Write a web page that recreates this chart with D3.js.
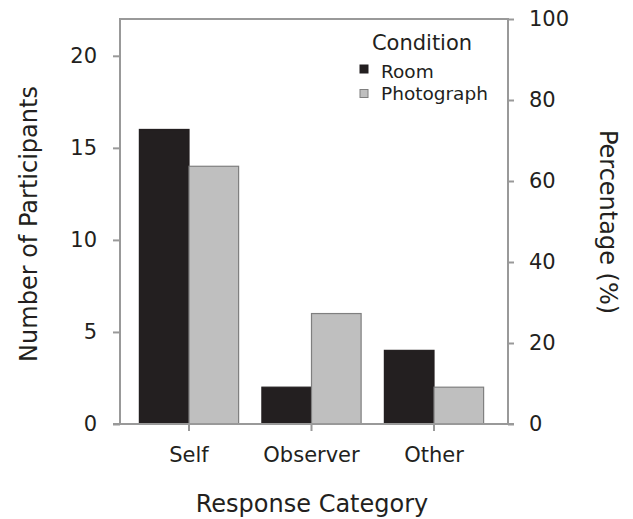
<!DOCTYPE html>
<html><head><meta charset="utf-8">
<script src="https://cdn.jsdelivr.net/npm/d3@7"></script>
<style>body{margin:0;background:#fff}svg{display:block}text{font-family:"DejaVu Sans",Verdana,sans-serif;fill:#231f20}</style>
</head><body><svg id="c" width="633" height="519"></svg>
<script>
const categories = ["Self", "Observer", "Other"];
const seriesNames = ["Room", "Photograph"];
const roomValues = [16, 2, 4];
const photoValues = [14, 6, 2];
const leftTicks = [0, 5, 10, 15, 20];
const rightTicks = [0, 20, 40, 60, 80, 100];

const svg = d3.select("#c");
const L = 120, R = 508, T = 19, B = 424;
const colors = {Room: "#231f20", Photograph: "#bfbfbf"};
const strokes = {Room: "#231f20", Photograph: "#7f7f7f"};
const axisGray = "#999999";
const FONT = '"DejaVu Sans",Verdana,sans-serif';

const y = d3.scaleLinear().domain([0, 22]).range([B, T]);
const yPct = d3.scaleLinear().domain([0, 100]).range([B, T]);
const x = d3.scaleBand().domain(categories).range([127.75, 495.25]).padding(0);
const bw = x.bandwidth() * 0.405;

// frame
svg.append("path").attr("d", `M${L},${B}V${T}H${R}V${B}`).attr("fill", "none").attr("stroke", axisGray).attr("stroke-width", 2);

const data = categories.map((c, i) => ({c, vals: [roomValues[i], photoValues[i]]}));
const g = svg.append("g");
data.forEach(d => {
  d.vals.forEach((v, j) => {
    const cx = x(d.c) + x.bandwidth() / 2;
    const s = seriesNames[j];
    g.append("rect")
      .attr("x", j === 0 ? cx - bw : cx)
      .attr("y", y(v))
      .attr("width", bw)
      .attr("height", B - y(v))
      .attr("fill", colors[s])
      .attr("stroke", strokes[s])
      .attr("stroke-width", 1.2);
  });
});

// bottom axis line
svg.append("line").attr("x1", 113).attr("x2", 514).attr("y1", B).attr("y2", B).attr("stroke", axisGray).attr("stroke-width", 2);

function styleAxis(sel) {
  sel.select(".domain").remove();
  sel.selectAll("line").attr("stroke", axisGray).attr("stroke-width", 2);
  sel.selectAll("text").style("font-size", "21px").attr("fill", "#231f20").style("font-family", FONT);
}

// left axis
svg.append("g").attr("transform", `translate(${L},0)`)
  .call(d3.axisLeft(y).tickValues(leftTicks).tickSize(7).tickPadding(16)).call(styleAxis);

// right axis
svg.append("g").attr("transform", `translate(${R},0)`)
  .call(d3.axisRight(yPct).tickValues(rightTicks).tickSize(6).tickPadding(15)).call(styleAxis);

// bottom axis
svg.append("g").attr("transform", `translate(0,${B})`)
  .call(d3.axisBottom(x).tickSize(7).tickPadding(16)).call(styleAxis);

// titles
svg.append("text").attr("transform", "translate(37,224) rotate(-90)").attr("text-anchor", "middle")
  .style("font-size", "24px").text("Number of Participants");
svg.append("text").attr("transform", "translate(600,222) rotate(90)").attr("text-anchor", "middle")
  .style("font-size", "24px").text("Percentage (%)");
svg.append("text").attr("x", 312).attr("y", 512).attr("text-anchor", "middle")
  .style("font-size", "24px").text("Response Category");

// legend
svg.append("text").attr("x", 422).attr("y", 50).attr("text-anchor", "middle").style("font-size", "21px").text("Condition");
seriesNames.forEach((s, i) => {
  svg.append("rect").attr("x", 360).attr("y", 65 + i * 24.5).attr("width", 8).attr("height", 8)
    .attr("fill", colors[s]).attr("stroke", strokes[s]).attr("stroke-width", 1);
  svg.append("text").attr("x", 381).attr("y", 77.5 + i * 22.5).style("font-size", "18.5px").text(s);
});
</script></body></html>
